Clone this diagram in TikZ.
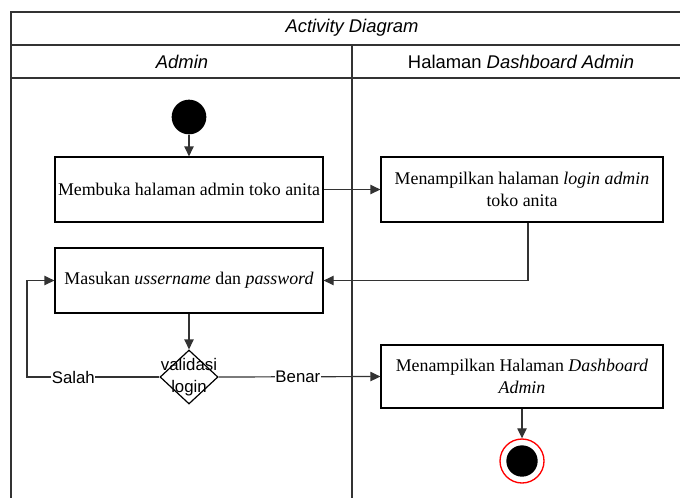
\documentclass[tikz,border=0pt]{standalone}
\usepackage{fontspec}
\setmainfont{Liberation Serif}
\setsansfont{Liberation Sans}
\usetikzlibrary{positioning}
\usetikzlibrary{shapes.geometric,arrows.meta}

\begin{document}
\begin{tikzpicture}
            [x=0.75pt, y=-0.75pt,
             act/.style = {draw, line width=0.9pt, minimum height=48.75pt, align=center, inner sep=1pt, font=\fontsize{13.4}{16}\selectfont},
             lane/.style = {font=\sffamily\fontsize{13.8}{16}\selectfont},
             lbl/.style = {font=\sffamily\fontsize{12.6}{17}\selectfont, align=center, inner sep=0.5pt},
             decision/.style = {diamond, draw, line width=0.9pt, minimum width=43.5pt, minimum height=40.5pt, inner sep=0pt},
             flow/.style = {-{Triangle[length=7.5pt,width=7pt]}, line width=0.9pt, draw=black!80}]

            \useasboundingbox (0,0) rectangle (680,497);
            \clip (0,0) rectangle (680,497);

            % frame and swimlanes
            \draw[line width=0.9pt, black!80] (11,12) rectangle (694,520);
            \draw[line width=0.9pt, black!80] (11,45) -- (694,45);
            \draw[line width=0.9pt, black!80] (11,78) -- (694,78);
            \draw[line width=0.9pt, black!80] (352,45) -- (352,520);

            \node[lane] (judul) at (352,28) {\itshape Activity Diagram};
            \node[lane] (admin) at (182,62) {\itshape Admin};
            \node[lane] (halaman) at (521,62) {Halaman \textit{Dashboard Admin}};

            % activities
            \node[circle, fill=black, minimum size=26pt, inner sep=0pt] (start) at (189,117) {};
            \node[act, minimum width=201pt] (buka) at (189,189.5) {Membuka halaman admin toko anita};
            \node[act, minimum width=211.5pt] (tampil) at (522,189.5) {Menampilkan halaman \textit{login admin}\\toko anita};
            \node[act, minimum width=201pt] (masuk) at (189,280.5) {Masukan \textit{ussername} dan \textit{password}};
            \node[decision] (cek) at (189,377) {};
            \node[lbl] (cektext) at (189,377) {validasi\\login};
            \node[act, minimum width=211.5pt, minimum height=47.25pt] (dash) at (522,376.5) {Menampilkan Halaman \textit{Dashboard}\\\textit{Admin}};
            \node[circle, draw=red, fill=white, line width=1pt, minimum size=33pt, inner sep=0pt] (stop) at (522,461) {};
            \node[circle, fill=black, minimum size=23.5pt, inner sep=0pt] (stopin) at (522,461) {};
            \coordinate (kiri) at (27,377);

            % connectors
            \draw[flow] (start) -- (buka);
            \draw[flow] (buka) -- (tampil);
            \draw[flow] ([xshift=4.5pt]tampil.south) |- (masuk.east);
            \draw[flow] (masuk) -- (cek);
            \draw[flow] (cek.west) -- node[lbl, fill=white, pos=0.65] {Salah} (kiri) |- (masuk.west);
            \draw[flow] (cek.east) -- node[lbl, fill=white, pos=0.49] {Benar} (dash.west);
            \draw[flow] (dash) -- (stop);

        \end{tikzpicture}
\end{document}
